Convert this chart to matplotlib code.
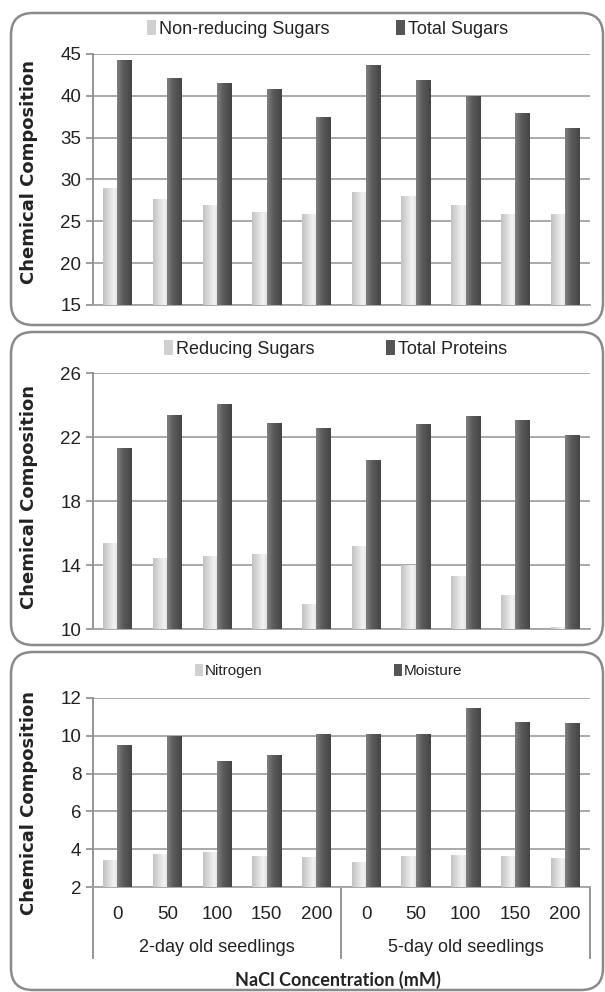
import numpy as np
import matplotlib
matplotlib.use("Agg")
import matplotlib.pyplot as plt
from matplotlib.patches import FancyBboxPatch, Patch
from matplotlib.colors import LinearSegmentedColormap

SANS = ["Liberation Sans", "DejaVu Sans"]

# NaCl levels (mM), repeated for the two seedling ages
nacl = ["0", "50", "100", "150", "200", "0", "50", "100", "150", "200"]
groups = ["2-day old seedlings", "5-day old seedlings"]

non_reducing = [29.0, 27.7, 27.0, 26.1, 25.9, 28.5, 28.0, 26.9, 25.9, 25.9]
total_sugars = [44.3, 42.1, 41.5, 40.8, 37.5, 43.7, 41.9, 40.0, 38.0, 36.1]

reducing = [15.35, 14.45, 14.55, 14.7, 11.55, 15.2, 14.0, 13.3, 12.15, 10.15]
proteins = [21.3, 23.4, 24.05, 22.9, 22.55, 20.55, 22.8, 23.3, 23.05, 22.15]

nitrogen = [3.42, 3.72, 3.86, 3.66, 3.6, 3.3, 3.66, 3.71, 3.66, 3.54]
moisture = [9.52, 10.0, 8.66, 9.01, 10.07, 10.07, 10.07, 11.49, 10.75, 10.68]

panels = [
    dict(light=non_reducing, dark=total_sugars,
         names=("Non-reducing Sugars", "Total Sugars"),
         ylim=(15, 45), step=5, rect=(54, 305), box=(13, 325),
         leg=((147, 396), 29, 13), ylab=172),
    dict(light=reducing, dark=proteins,
         names=("Reducing Sugars", "Total Proteins"),
         ylim=(10, 26), step=4, rect=(373, 629), box=(332, 645),
         leg=((164, 386), 349, 13), ylab=497),
    dict(light=nitrogen, dark=moisture,
         names=("Nitrogen", "Moisture"),
         ylim=(2, 12), step=2, rect=(698, 887), box=(652, 990),
         leg=((195, 394), 671, 11), ylab=803),
]

W, H = 605, 992
light_cmap = LinearSegmentedColormap.from_list(
    "lt", [(0, "#c2c2c2"), (0.75, "#f3f3f3"), (1, "#e2e2e2")])
dark_cmap = LinearSegmentedColormap.from_list(
    "dk", [(0, "#808080"), (0.4, "#5c5c5c"), (1, "#454545")])
grad = np.linspace(0, 1, 64).reshape(1, -1)

fig = plt.figure(figsize=(W / 100, H / 100), dpi=100)

x = np.arange(len(nacl))
bw = 0.29

for i, p in enumerate(panels):
    top, bot = p["rect"]
    ax = fig.add_axes([92.6 / W, 1 - bot / H, (590 - 92.6) / W, (bot - top) / H])
    lo, hi = p["ylim"]

    for vals, off, cmap in ((p["light"], -bw / 2, light_cmap),
                            (p["dark"], bw / 2, dark_cmap)):
        bars = ax.bar(x + off, np.array(vals) - lo, bw, bottom=lo,
                      facecolor="none", edgecolor="none", zorder=3)
        for b in bars:
            x0, y0 = b.get_x(), b.get_y()
            im = ax.imshow(grad, cmap=cmap, aspect="auto", zorder=3,
                           extent=(x0, x0 + b.get_width(), y0, y0 + b.get_height()))
            im.set_clip_path(b)

    ax.set_xlim(-0.5, 9.5)
    ax.set_ylim(lo, hi)
    ax.set_yticks(np.arange(lo, hi + 0.1, p["step"]))
    ax.grid(axis="y", color="#a3a3a3", lw=1.3, zorder=1)
    for s in ("top", "right"):
        ax.spines[s].set_visible(False)
    ax.spines["left"].set_color("#8c8c8c")
    ax.spines["bottom"].set_color("#a3a3a3")
    ax.spines["left"].set_linewidth(1.3)
    ax.spines["bottom"].set_linewidth(1.3)
    ax.tick_params(axis="y", length=5, width=1.2, color="#8c8c8c", pad=3,
                   labelsize=13.5, labelcolor="#222222")
    for t in ax.get_yticklabels():
        t.set_family(SANS)

    if i < 2:
        ax.set_xticks([])
    else:
        ax.set_xticks(x)
        ax.set_xticklabels(nacl, family=SANS, fontsize=13.5, color="#222222")
        ax.tick_params(axis="x", length=0, pad=14)
        sep_y = -(958 - 887) / (bot - top)
        for xs in (-0.5, 4.5, 9.5):
            ax.plot([xs, xs], [0, sep_y], color="#8c8c8c", lw=1.3,
                    transform=ax.get_xaxis_transform(), clip_on=False)
        for gi, g in enumerate(groups):
            ax.text(2 + 5 * gi, -(947 - 887) / (bot - top), g, family=SANS,
                    fontsize=13, color="#222222", ha="center", va="center",
                    transform=ax.get_xaxis_transform())

    # one legend entry per series, each anchored at its own marker position
    hxs, ly, lfs = p["leg"]
    colors = ("#d0d0d0", "#555555")
    for hx, name, c in zip(hxs, p["names"], colors):
        fig.legend([Patch(facecolor=c, edgecolor="none")], [name],
                   loc="center left", bbox_to_anchor=(hx / W, 1 - ly / H),
                   frameon=False, borderpad=0, borderaxespad=0,
                   prop=dict(family=SANS, size=lfs),
                   handlelength=0.5, handleheight=0.85, handletextpad=0.15,
                   labelcolor="#222222")

    fig.text(29 / W, 1 - p["ylab"] / H, "Chemical Composition", rotation=90,
             ha="center", va="center", fontsize=13, fontweight="bold",
             family="DejaVu Sans", color="#222222")

    btop, bbot = p["box"]
    fig.patches.append(FancyBboxPatch(
        (11 / 100, (H - bbot) / 100), (603 - 11) / 100, (bbot - btop) / 100,
        boxstyle="round,pad=0,rounding_size=0.22", transform=fig.dpi_scale_trans,
        facecolor="none", edgecolor="#8a8a8a", lw=1.8))

fig.text(338 / W, 1 - 980 / H, "NaCl Concentration (mM)", ha="center",
         va="center", fontsize=13, fontweight="bold", family="Lato",
         color="#222222")

fig.savefig("out.png", dpi=100)
